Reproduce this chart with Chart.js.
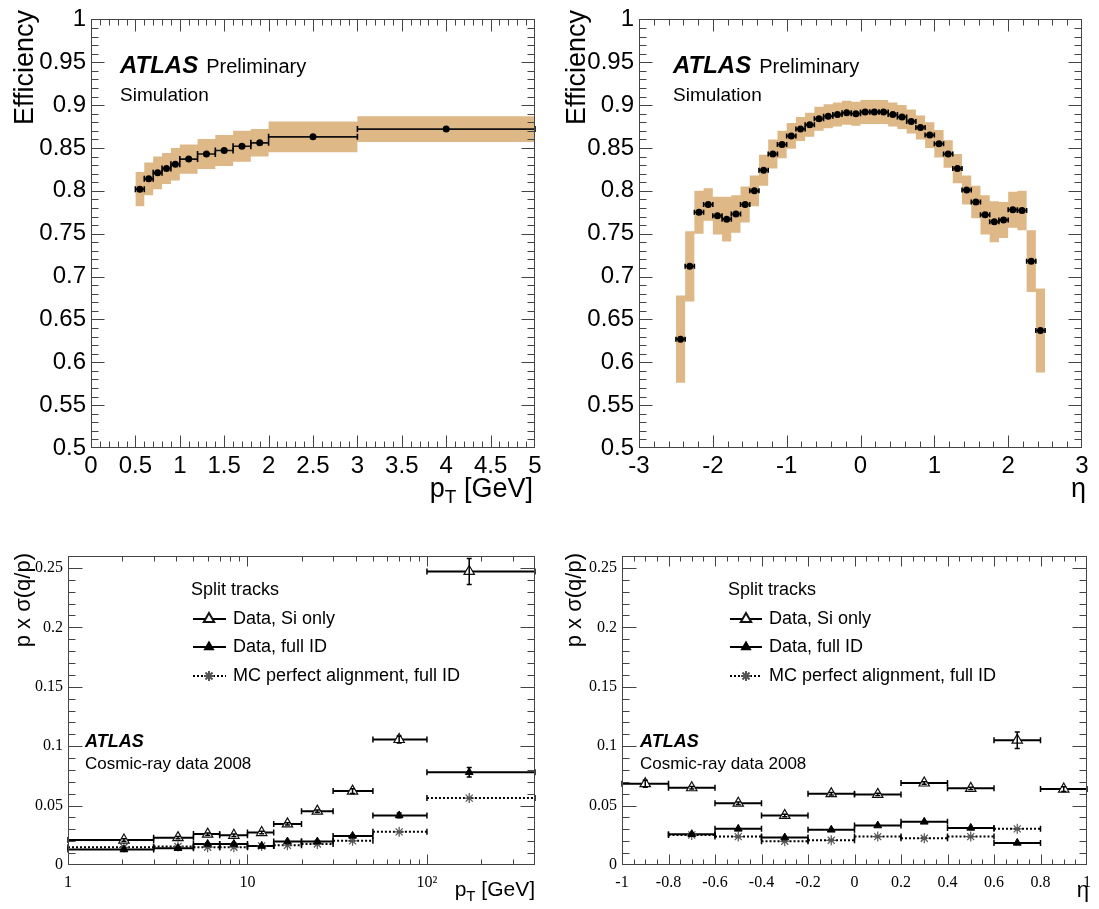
<!DOCTYPE html>
<html>
<head>
<meta charset="utf-8">
<script src="https://cdn.jsdelivr.net/npm/chart.js@4.4.1/dist/chart.umd.min.js"></script>
<style>
  html, body { margin: 0; padding: 0; background: #fff; }
  #wrap { position: relative; width: 1099px; height: 909px; }
  canvas { position: absolute; }
</style>
</head>
<body>
<div id="wrap">
  <canvas id="c1" width="549" height="505" style="left:0;top:0"></canvas>
  <canvas id="c2" width="550" height="505" style="left:549px;top:0"></canvas>
  <canvas id="c3" width="549" height="404" style="left:0;top:505px"></canvas>
  <canvas id="c4" width="550" height="404" style="left:549px;top:505px"></canvas>
</div>
<script>
// ---- efficiency vs pT (top left) ----
const ptEdges = [0.5, 0.6, 0.7, 0.8, 0.9, 1.0, 1.2, 1.4, 1.6, 1.8, 2.0, 3.0, 5.0];
const ptEff   = [0.802, 0.814, 0.821, 0.826, 0.831, 0.837, 0.843, 0.847, 0.852, 0.856, 0.863, 0.872];
const ptSyst  = [0.020, 0.019, 0.019, 0.018, 0.019, 0.017, 0.0175, 0.018, 0.018, 0.016, 0.018, 0.015];
const ptStat  = [0.002, 0.002, 0.002, 0.002, 0.002, 0.002, 0.002, 0.002, 0.002, 0.002, 0.002, 0.003];

// ---- efficiency vs eta (top right) ----
const etaEdges = [-2.5, -2.375, -2.25, -2.125, -2, -1.875, -1.75, -1.625, -1.5, -1.375, -1.25, -1.125,
  -1, -0.875, -0.75, -0.625, -0.5, -0.375, -0.25, -0.125, 0, 0.125, 0.25, 0.375, 0.5, 0.625, 0.75,
  0.875, 1, 1.125, 1.25, 1.375, 1.5, 1.625, 1.75, 1.875, 2, 2.125, 2.25, 2.375, 2.5];
const etaEff = [0.627, 0.712, 0.775, 0.784, 0.771, 0.767, 0.773, 0.784, 0.800, 0.824, 0.843, 0.854,
  0.864, 0.872, 0.877, 0.884, 0.887, 0.889, 0.891, 0.890, 0.892, 0.892, 0.892, 0.889, 0.886, 0.881,
  0.874, 0.865, 0.855, 0.843, 0.826, 0.801, 0.787, 0.772, 0.764, 0.766, 0.778, 0.777, 0.718, 0.637];
const etaSyst = [0.051, 0.041, 0.025, 0.019, 0.022, 0.026, 0.022, 0.021, 0.018, 0.018, 0.017, 0.016,
  0.015, 0.014, 0.014, 0.014, 0.014, 0.014, 0.014, 0.014, 0.014, 0.014, 0.014, 0.014, 0.014, 0.014,
  0.014, 0.015, 0.016, 0.016, 0.017, 0.017, 0.019, 0.023, 0.024, 0.021, 0.021, 0.023, 0.036, 0.049];
const etaStat = [0.003, 0.003, 0.002, 0.002, 0.002, 0.002, 0.002, 0.002, 0.002, 0.002, 0.002, 0.002,
  0.002, 0.002, 0.002, 0.002, 0.002, 0.002, 0.002, 0.002, 0.002, 0.002, 0.002, 0.002, 0.002, 0.002,
  0.002, 0.002, 0.002, 0.002, 0.002, 0.002, 0.002, 0.002, 0.002, 0.002, 0.002, 0.002, 0.003, 0.003];

const effTicks = [0.5, 0.55, 0.6, 0.65, 0.7, 0.75, 0.8, 0.85, 0.9, 0.95, 1];
const ptTicks  = [0, 0.5, 1, 1.5, 2, 2.5, 3, 3.5, 4, 4.5, 5];
const etaTicks = [-3, -2, -1, 0, 1, 2, 3];

// ---- resolution vs pT (bottom left) ----
const resPtEdges = [1, 3, 5, 7, 10, 14, 20, 30, 50, 100, 400];
const resPtMean  = [2.05, 4.1, 6.0, 8.4, 12.0, 16.7, 24.5, 38.5, 70, 172];
const siOnlyPt    = [0.021, 0.023, 0.026, 0.025, 0.0273, 0.0346, 0.0453, 0.0622, 0.1056, 0.247];
const siOnlyPtErr = [0.001, 0.001, 0.001, 0.001, 0.001, 0.001, 0.001, 0.002, 0.003, 0.011];
const fullIdPt    = [0.013, 0.0141, 0.0177, 0.0177, 0.016, 0.0197, 0.0197, 0.0245, 0.0417, 0.078];
const fullIdPtErr = [0.001, 0.001, 0.001, 0.001, 0.001, 0.001, 0.001, 0.001, 0.002, 0.004];
const mcPt        = [0.0149, 0.0155, 0.015, 0.015, 0.016, 0.0166, 0.0177, 0.0203, 0.0279, 0.0563];

// ---- resolution vs eta (bottom right) ----
const resEtaEdges = [-1, -0.8, -0.6, -0.4, -0.2, 0, 0.2, 0.4, 0.6, 0.8, 1];
const resEtaMean  = [-0.9, -0.7, -0.5, -0.3, -0.1, 0.1, 0.3, 0.5, 0.7, 0.9];
const siOnlyEta    = [0.0684, 0.065, 0.052, 0.0417, 0.060, 0.0594, 0.069, 0.0645, 0.105, 0.0639];
const siOnlyEtaErr = [0.003, 0.001, 0.001, 0.001, 0.001, 0.001, 0.001, 0.001, 0.007, 0.002];
const fullIdEta    = [null, 0.0259, 0.0304, 0.0231, 0.0296, 0.0332, 0.0363, 0.0312, 0.0186, null];
const mcEta        = [null, 0.0253, 0.0239, 0.020, 0.0208, 0.0239, 0.0225, 0.0239, 0.0304, null];

const resTicks    = [0, 0.05, 0.1, 0.15, 0.2, 0.25];
const logTicks    = [1, 10, 100];
const resEtaTicks = [-1, -0.8, -0.6, -0.4, -0.2, 0, 0.2, 0.4, 0.6, 0.8, 1];

const SANS = '"Liberation Sans", Arial, Helvetica, sans-serif';
const SERIF = '"Liberation Serif", "Times New Roman", serif';
const BAND = '#deb887';

const fmt = v => String(Math.round(v * 1000) / 1000);
const centers = e => e.slice(0, -1).map((v, i) => (v + e[i + 1]) / 2);
const pts = (xs, ys) => xs.map((x, i) => ({ x, y: ys[i] }));
const stepPts = (edges, vals) => edges.map((e, i) => ({ x: e, y: vals[Math.min(i, vals.length - 1)] }));
function binLine(edges, vals) {
  const d = [];
  vals.forEach((v, i) => {
    if (v == null) return;
    d.push({ x: edges[i], y: v }, { x: edges[i + 1], y: v }, { x: edges[i + 1], y: null });
  });
  return d;
}

// per-canvas decoration: frame, ticks, error bars, texts
const decorCfg = {};

function drawRich(ctx, parts, x, y, align) {
  let w = 0;
  parts.forEach(p => { ctx.font = p.f; w += ctx.measureText(p.t).width; });
  let cx = align === 'right' ? x - w : x;
  ctx.textAlign = 'left';
  parts.forEach(p => {
    ctx.font = p.f;
    ctx.fillText(p.t, cx, y + (p.dy || 0));
    cx += ctx.measureText(p.t).width;
  });
}

const decor = {
  id: 'decor',
  afterDatasetsDraw(chart) {
    const o = decorCfg[chart.canvas.id];
    const { ctx, chartArea: a, scales: { x, y } } = chart;
    ctx.save();
    // error bars and bin-edge caps
    o.errors.forEach(e => {
      ctx.strokeStyle = e.color;
      ctx.lineWidth = e.width;
      e.vals.forEach((v, i) => {
        if (v == null) return;
        const py = y.getPixelForValue(v);
        ctx.beginPath();
        [e.edges[i], e.edges[i + 1]].forEach(xe => {
          const px = x.getPixelForValue(xe);
          ctx.moveTo(px, py - e.cap); ctx.lineTo(px, py + e.cap);
        });
        if (e.err) {
          const px = x.getPixelForValue(e.xs[i]);
          const y1 = y.getPixelForValue(v - e.err[i]), y2 = y.getPixelForValue(v + e.err[i]);
          ctx.moveTo(px, y1); ctx.lineTo(px, y2);
          if (e.vcap) {
            ctx.moveTo(px - e.vcap, y1); ctx.lineTo(px + e.vcap, y1);
            ctx.moveTo(px - e.vcap, y2); ctx.lineTo(px + e.vcap, y2);
          }
        }
        ctx.stroke();
      });
    });
    // frame
    ctx.strokeStyle = '#444';
    ctx.lineWidth = 1;
    const L = Math.round(a.left) + 0.5, R = Math.round(a.right) - 0.5;
    const T = Math.round(a.top) + 0.5, B = Math.round(a.bottom) - 0.5;
    ctx.strokeRect(L, T, R - L, B - T);
    ctx.beginPath();
    const xt = (vals, len) => vals.forEach(v => {
      const p = Math.round(x.getPixelForValue(v)) + 0.5;
      if (p < L + 1 || p > R - 1) return;
      ctx.moveTo(p, B); ctx.lineTo(p, B - len);
      ctx.moveTo(p, T); ctx.lineTo(p, T + len);
    });
    const yt = (vals, len) => vals.forEach(v => {
      const p = Math.round(y.getPixelForValue(v)) + 0.5;
      if (p < T + 1 || p > B - 1) return;
      ctx.moveTo(L, p); ctx.lineTo(L + len, p);
      ctx.moveTo(R, p); ctx.lineTo(R - len, p);
    });
    xt(o.xMajor, o.xLen[0]); xt(o.xMinor, o.xLen[1]);
    yt(o.yMajor, o.yLen[0]); yt(o.yMinor, o.yLen[1]);
    ctx.stroke();
    ctx.restore();
  },
  afterDraw(chart) {
    const o = decorCfg[chart.canvas.id];
    const ctx = chart.ctx;
    ctx.save();
    ctx.translate(-o.off[0], -o.off[1]);
    ctx.fillStyle = '#000';
    o.texts.forEach(t => {
      ctx.textBaseline = t.base || 'alphabetic';
      if (t.rot) {
        ctx.save();
        ctx.translate(t.x, t.y);
        ctx.rotate(-Math.PI / 2);
        ctx.font = t.f;
        ctx.textAlign = 'right';
        ctx.fillText(t.t, 0, 0);
        ctx.restore();
      } else if (t.parts) {
        drawRich(ctx, t.parts, t.x, t.y, t.align);
      } else {
        ctx.font = t.f;
        ctx.textAlign = t.align || 'left';
        ctx.fillText(t.t, t.x, t.y);
        if (t.after) {
          const w = ctx.measureText(t.t).width;
          ctx.font = t.after.f;
          ctx.fillText(t.after.t, t.x + w + t.after.gap, t.y);
        }
      }
    });
    if (o.legend) {
      const g = o.legend;
      ctx.font = '18px ' + SANS;
      ctx.textBaseline = 'middle';
      ctx.textAlign = 'left';
      ctx.fillText('Split tracks', g.titleX, g.titleY);
      g.items.forEach(it => {
        ctx.strokeStyle = '#000';
        ctx.lineWidth = 2;
        ctx.setLineDash(it.dash || []);
        ctx.beginPath();
        ctx.moveTo(g.x0, it.y); ctx.lineTo(g.x1, it.y);
        ctx.stroke();
        ctx.setLineDash([]);
        ctx.fillStyle = it.fill;
        ctx.strokeStyle = it.stroke;
        Chart.helpers.drawPoint(ctx, { pointStyle: it.style, radius: it.r, rotation: 0, borderWidth: 1.2 }, g.mx, it.y);
        ctx.fillStyle = '#000';
        ctx.font = '18px ' + SANS;
        ctx.fillText(it.label, g.tx, it.y);
      });
    }
    ctx.restore();
  }
};

function axis(type, min, max, ticks, font, pad, labelOf) {
  return {
    type, min, max,
    grid: { display: false, drawTicks: false },
    border: { display: false },
    afterBuildTicks: s => { s.ticks = ticks.map(v => ({ value: v })); },
    ticks: { autoSkip: false, maxRotation: 0, minRotation: 0, padding: pad, color: '#000', font, callback: labelOf }
  };
}

function makeChart(id, area, datasets, xScale, yScale) {
  const cv = document.getElementById(id);
  const W = cv.width, H = cv.height;
  xScale.afterFit = s => { s.height = H - area.bottom; };
  yScale.afterFit = s => { s.width = area.left; };
  return new Chart(cv, {
    type: 'line',
    data: { datasets },
    options: {
      responsive: false,
      animation: false,
      events: [],
      layout: { padding: { left: 0, top: area.top, right: W - area.right, bottom: 0 } },
      plugins: { legend: { display: false }, tooltip: { enabled: false } },
      scales: { x: xScale, y: yScale }
    },
    plugins: [decor]
  });
}

function minorSteps(min, max, step) {
  const out = [];
  for (let k = 0; min + k * step <= max + 1e-9; k++) out.push(Math.round((min + k * step) * 1e6) / 1e6);
  return out;
}

function effDatasets(edges, eff, syst) {
  return [
    { data: pts(centers(edges), eff), showLine: false, pointRadius: 3.5, pointBackgroundColor: '#000',
      pointBorderColor: '#000', pointBorderWidth: 0 },
    { data: binLine(edges, eff), borderColor: '#111', borderWidth: 1.6, pointRadius: 0, spanGaps: false },
    { data: stepPts(edges, eff.map((v, i) => v + syst[i])), stepped: true, borderColor: BAND, borderWidth: 0,
      pointRadius: 0, fill: '+1', backgroundColor: BAND },
    { data: stepPts(edges, eff.map((v, i) => v - syst[i])), stepped: true, borderColor: BAND, borderWidth: 0,
      pointRadius: 0, fill: false }
  ];
}

function resDatasets(edges, means, si, full, mc) {
  return [
    { data: pts(means, si), showLine: false, pointStyle: 'triangle', pointRadius: 6,
      pointBackgroundColor: '#fff', pointBorderColor: '#111', pointBorderWidth: 1.2 },
    { data: pts(means, full), showLine: false, pointStyle: 'triangle', pointRadius: 4.5,
      pointBackgroundColor: '#000', pointBorderColor: '#000', pointBorderWidth: 1 },
    { data: pts(means, mc), showLine: false, pointStyle: 'star', pointRadius: 5,
      pointBorderColor: '#555', pointBorderWidth: 1.2 },
    { data: binLine(edges, si), borderColor: '#000', borderWidth: 2, pointRadius: 0, spanGaps: false },
    { data: binLine(edges, full), borderColor: '#000', borderWidth: 2, pointRadius: 0, spanGaps: false },
    { data: binLine(edges, mc), borderColor: '#000', borderWidth: 2, borderDash: [2, 2], pointRadius: 0, spanGaps: false }
  ];
}

const tickFontTop = { family: SANS, size: 24 };
const tickFontBot = { family: SERIF, size: 16 };

function topTexts(dx, effX, xTitle) {
  return [
    { t: 'Efficiency', x: effX, y: 10, f: '27px ' + SANS, rot: true },
    { t: 'ATLAS', x: 120 + dx, y: 73, f: 'italic bold 24px ' + SANS,
      after: { t: 'Preliminary', f: '20px ' + SANS, gap: 8 } },
    { t: 'Simulation', x: 120 + dx, y: 101, f: '19px ' + SANS },
    xTitle
  ];
}

// top left
decorCfg.c1 = {
  off: [0, 0],
  xMajor: ptTicks, xMinor: minorSteps(0, 5, 0.1), xLen: [12, 6],
  yMajor: effTicks, yMinor: minorSteps(0.5, 1, 0.01), yLen: [13, 7],
  errors: [{ xs: centers(ptEdges), vals: ptEff, err: ptStat, edges: ptEdges, cap: 3, width: 1.6, color: '#000' }],
  texts: topTexts(0, 33, { parts: [
    { t: 'p', f: '27px ' + SANS }, { t: 'T', f: '19px ' + SANS, dy: 6 }, { t: ' [GeV]', f: '27px ' + SANS }
  ], x: 533, y: 497, align: 'right' })
};
makeChart('c1', { left: 91, top: 17, right: 535, bottom: 448 }, effDatasets(ptEdges, ptEff, ptSyst),
  axis('linear', 0, 5, ptTicks, tickFontTop, 4, fmt),
  axis('linear', 0.5, 1, effTicks, tickFontTop, 5, fmt));

// top right
decorCfg.c2 = {
  off: [549, 0],
  xMajor: etaTicks, xMinor: minorSteps(-3, 3, 0.2), xLen: [12, 6],
  yMajor: effTicks, yMinor: minorSteps(0.5, 1, 0.01), yLen: [13, 7],
  errors: [{ xs: centers(etaEdges), vals: etaEff, err: etaStat, edges: etaEdges, cap: 2.5, width: 1.6, color: '#000' }],
  texts: topTexts(553, 585, { t: 'η', x: 1086, y: 497, f: '27px ' + SANS, align: 'right' })
};
makeChart('c2', { left: 90, top: 17, right: 533, bottom: 448 }, effDatasets(etaEdges, etaEff, etaSyst),
  axis('linear', -3, 3, etaTicks, tickFontTop, 4, fmt),
  axis('linear', 0.5, 1, effTicks, tickFontTop, 5, fmt));

function legendItems() {
  return [
    { label: 'Data, Si only', y: 619, style: 'triangle', r: 6, fill: '#fff', stroke: '#111' },
    { label: 'Data, full ID', y: 647, style: 'triangle', r: 4.5, fill: '#000', stroke: '#000' },
    { label: 'MC perfect alignment, full ID', y: 676, style: 'star', r: 5, fill: '#555', stroke: '#555', dash: [2, 2] }
  ];
}
function botTexts(dx, ax, xTitle) {
  return [
    { t: 'p x σ(q/p)', x: ax, y: 553, f: '22px ' + SANS, rot: true },
    { t: 'ATLAS', x: 85 + dx, y: 742, f: 'italic bold 18px ' + SANS, base: 'middle' },
    { t: 'Cosmic-ray data 2008', x: 85 + dx, y: 764, f: '17px ' + SANS, base: 'middle' },
    xTitle
  ];
}

// bottom left
const logMinor = [];
logTicks.forEach(d => { for (let k = 2; k <= 9; k++) if (k * d < 400) logMinor.push(k * d); });
decorCfg.c3 = {
  off: [0, 505],
  xMajor: logTicks, xMinor: logMinor, xLen: [10, 5],
  yMajor: resTicks, yMinor: minorSteps(0, 0.26, 0.01), yLen: [14, 7],
  errors: [
    { xs: resPtMean, vals: siOnlyPt, err: siOnlyPtErr, edges: resPtEdges, cap: 3, vcap: 2.5, width: 1.5, color: '#000' },
    { xs: resPtMean, vals: fullIdPt, err: fullIdPtErr, edges: resPtEdges, cap: 3, vcap: 2.5, width: 1.5, color: '#000' },
    { vals: mcPt, edges: resPtEdges, cap: 3, width: 1.5, color: '#000' }
  ],
  texts: botTexts(0, 30, { parts: [
    { t: 'p', f: '21px ' + SANS }, { t: 'T', f: '15px ' + SANS, dy: 5 }, { t: ' [GeV]', f: '21px ' + SANS }
  ], x: 535, y: 896, align: 'right' }),
  legend: { titleX: 191, titleY: 590, x0: 193, x1: 226, mx: 209, tx: 233, items: legendItems() }
};
makeChart('c3', { left: 68, top: 51, right: 535, bottom: 360 },
  resDatasets(resPtEdges, resPtMean, siOnlyPt, fullIdPt, mcPt),
  axis('logarithmic', 1, 400, logTicks, tickFontBot, 8, v => ({ 1: '1', 10: '10', 100: '10²' })[v] || ''),
  axis('linear', 0, 0.26, resTicks, tickFontBot, 5, fmt));

// bottom right
decorCfg.c4 = {
  off: [549, 505],
  xMajor: resEtaTicks, xMinor: minorSteps(-1, 1, 0.05), xLen: [10, 5],
  yMajor: resTicks, yMinor: minorSteps(0, 0.26, 0.01), yLen: [14, 7],
  errors: [
    { xs: resEtaMean, vals: siOnlyEta, err: siOnlyEtaErr, edges: resEtaEdges, cap: 3, vcap: 2.5, width: 1.5, color: '#000' },
    { vals: fullIdEta, edges: resEtaEdges, cap: 3, width: 1.5, color: '#000' },
    { vals: mcEta, edges: resEtaEdges, cap: 3, width: 1.5, color: '#000' }
  ],
  texts: botTexts(555, 581, { t: 'η', x: 1089, y: 897, f: '22px ' + SANS, align: 'right' }),
  legend: { titleX: 728, titleY: 590, x0: 730, x1: 762, mx: 746, tx: 769, items: legendItems() }
};
makeChart('c4', { left: 73, top: 51, right: 540, bottom: 360 },
  resDatasets(resEtaEdges, resEtaMean, siOnlyEta, fullIdEta, mcEta),
  axis('linear', -1, 1, resEtaTicks, tickFontBot, 8, fmt),
  axis('linear', 0, 0.26, resTicks, tickFontBot, 5, fmt));
</script>
</body>
</html>
